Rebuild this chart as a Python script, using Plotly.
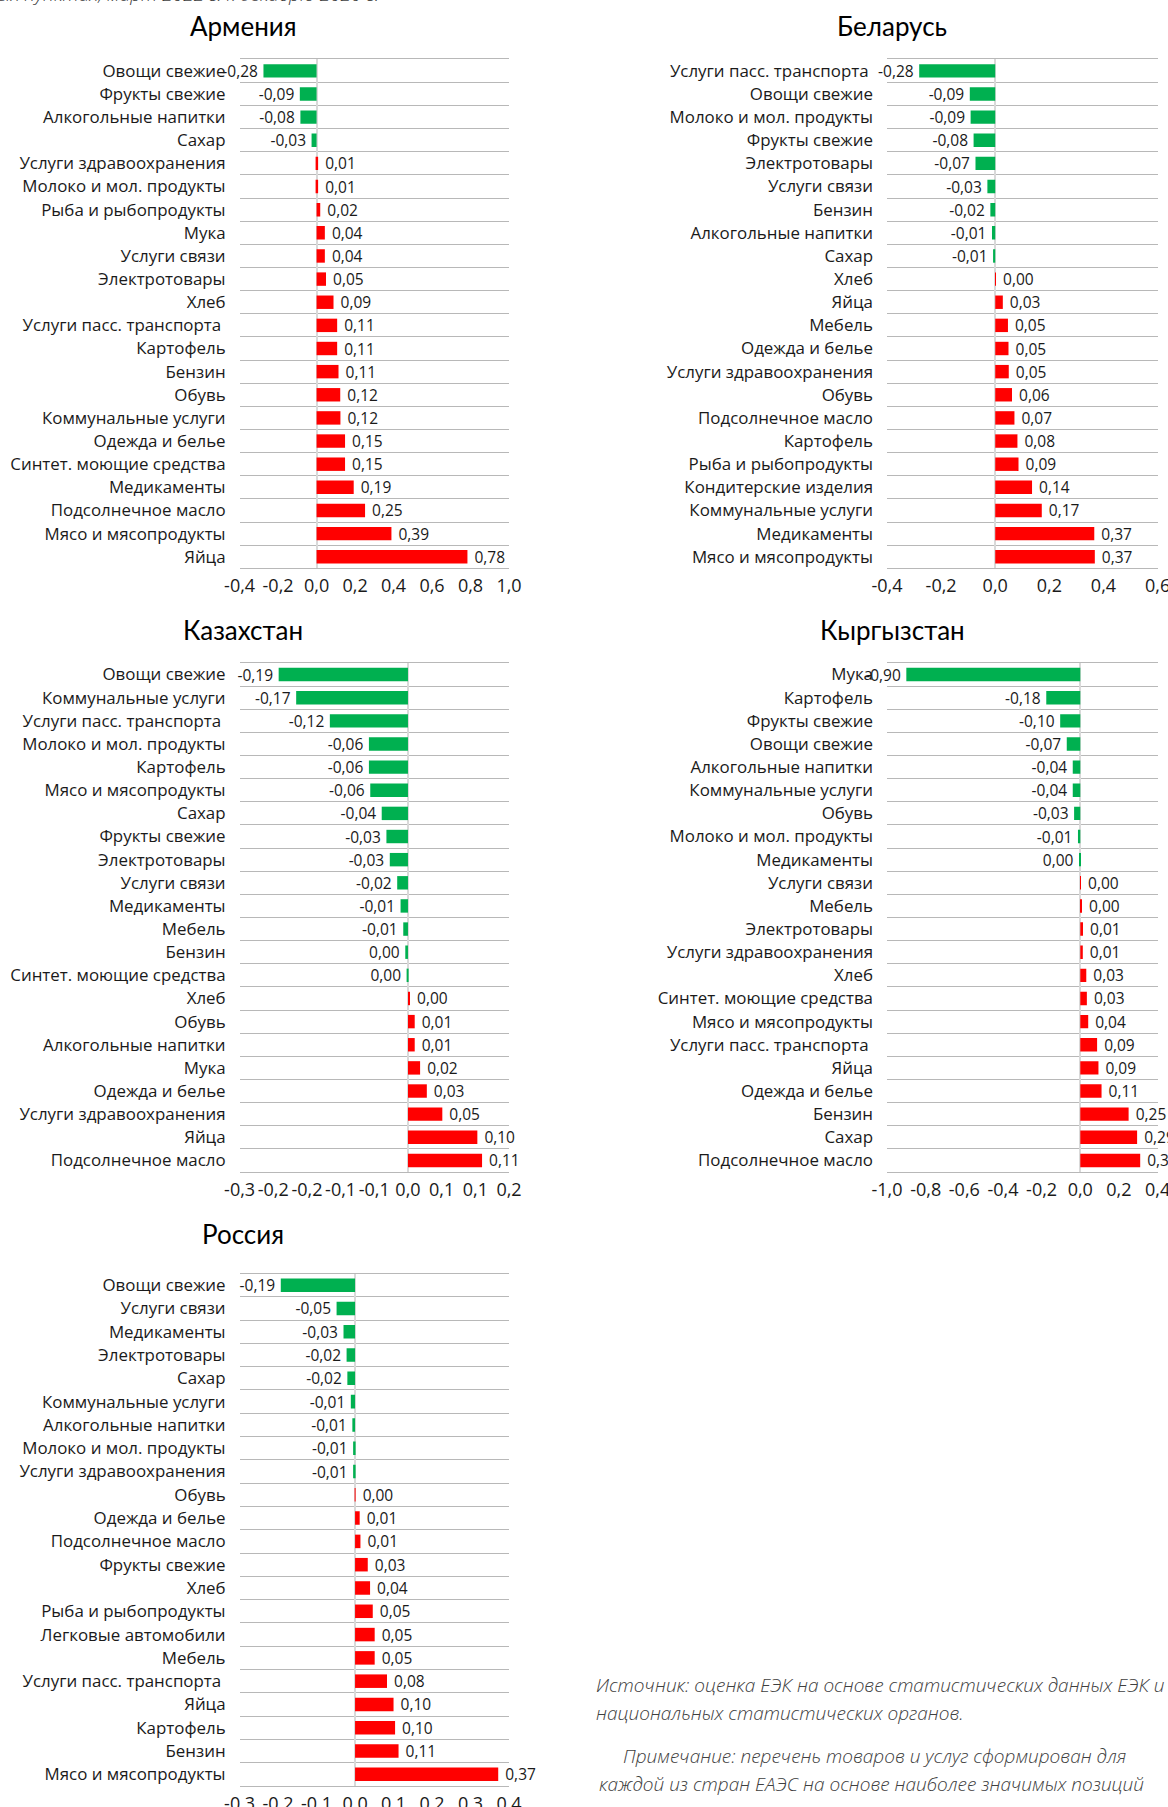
import plotly.graph_objects as go

# ---------------- data ----------------
arm_cats = ["Овощи свежие", "Фрукты свежие", "Алкогольные напитки", "Сахар",
            "Услуги здравоохранения", "Молоко и мол. продукты", "Рыба и рыбопродукты",
            "Мука", "Услуги связи", "Электротовары", "Хлеб", "Услуги пасс. транспорта\u00a0",
            "Картофель", "Бензин", "Обувь", "Коммунальные услуги", "Одежда и белье",
            "Синтет. моющие средства", "Медикаменты", "Подсолнечное масло",
            "Мясо и мясопродукты", "Яйца"]
arm_vals = [-0.276, -0.087, -0.084, -0.026, 0.008, 0.008, 0.019, 0.043, 0.043, 0.049,
            0.088, 0.107, 0.107, 0.114, 0.123, 0.124, 0.148, 0.148, 0.193, 0.252,
            0.389, 0.784]

bel_cats = ["Услуги пасс. транспорта\u00a0", "Овощи свежие", "Молоко и мол. продукты",
            "Фрукты свежие", "Электротовары", "Услуги связи", "Бензин",
            "Алкогольные напитки", "Сахар", "Хлеб", "Яйца", "Мебель", "Одежда и белье",
            "Услуги здравоохранения", "Обувь", "Подсолнечное масло", "Картофель",
            "Рыба и рыбопродукты", "Кондитерские изделия", "Коммунальные услуги",
            "Медикаменты", "Мясо и мясопродукты"]
bel_vals = [-0.281, -0.094, -0.091, -0.080, -0.073, -0.029, -0.018, -0.012, -0.008,
            0.001, 0.028, 0.047, 0.049, 0.050, 0.062, 0.071, 0.082, 0.086, 0.136,
            0.172, 0.366, 0.368]

kaz_cats = ["Овощи свежие", "Коммунальные услуги", "Услуги пасс. транспорта\u00a0",
            "Молоко и мол. продукты", "Картофель", "Мясо и мясопродукты", "Сахар",
            "Фрукты свежие", "Электротовары", "Услуги связи", "Медикаменты", "Мебель",
            "Бензин", "Синтет. моющие средства", "Хлеб", "Обувь", "Алкогольные напитки",
            "Мука", "Одежда и белье", "Услуги здравоохранения", "Яйца",
            "Подсолнечное масло"]
kaz_vals = [-0.192, -0.166, -0.116, -0.058, -0.058, -0.056, -0.039, -0.032, -0.027,
            -0.016, -0.011, -0.007, -0.004, -0.001, 0.003, 0.010, 0.010, 0.018, 0.028,
            0.051, 0.103, 0.110]

kgz_cats = ["Мука", "Картофель", "Фрукты свежие", "Овощи свежие", "Алкогольные напитки",
            "Коммунальные услуги", "Обувь", "Молоко и мол. продукты", "Медикаменты",
            "Услуги связи", "Мебель", "Электротовары", "Услуги здравоохранения", "Хлеб",
            "Синтет. моющие средства", "Мясо и мясопродукты", "Услуги пасс. транспорта\u00a0",
            "Яйца", "Одежда и белье", "Бензин", "Сахар", "Подсолнечное масло"]
kgz_vals = [-0.900, -0.176, -0.104, -0.070, -0.039, -0.039, -0.032, -0.012, -0.003,
            0.001, 0.004, 0.014, 0.013, 0.031, 0.034, 0.041, 0.087, 0.094, 0.110,
            0.250, 0.294, 0.310]

rus_cats = ["Овощи свежие", "Услуги связи", "Медикаменты", "Электротовары", "Сахар",
            "Коммунальные услуги", "Алкогольные напитки", "Молоко и мол. продукты",
            "Услуги здравоохранения", "Обувь", "Одежда и белье", "Подсолнечное масло",
            "Фрукты свежие", "Хлеб", "Рыба и рыбопродукты", "Легковые автомобили",
            "Мебель", "Услуги пасс. транспорта\u00a0", "Яйца", "Картофель", "Бензин",
            "Мясо и мясопродукты"]
rus_vals = [-0.193, -0.048, -0.030, -0.022, -0.020, -0.011, -0.007, -0.005, -0.005,
            0.001, 0.012, 0.014, 0.033, 0.039, 0.046, 0.051, 0.051, 0.083, 0.100,
            0.104, 0.113, 0.372]

arm_ticks = [-0.4, -0.2, 0.0, 0.2, 0.4, 0.6, 0.8, 1.0]
arm_ticktext = ["-0,4", "-0,2", "0,0", "0,2", "0,4", "0,6", "0,8", "1,0"]
bel_ticks = [-0.4, -0.2, 0.0, 0.2, 0.4, 0.6]
bel_ticktext = ["-0,4", "-0,2", "0,0", "0,2", "0,4", "0,6"]
kaz_ticks = [-0.25, -0.2, -0.15, -0.1, -0.05, 0.0, 0.05, 0.1, 0.15]
kaz_ticktext = ["-0,3", "-0,2", "-0,2", "-0,1", "-0,1", "0,0", "0,1", "0,1", "0,2"]
kgz_ticks = [-1.0, -0.8, -0.6, -0.4, -0.2, 0.0, 0.2, 0.4]
kgz_ticktext = ["-1,0", "-0,8", "-0,6", "-0,4", "-0,2", "0,0", "0,2", "0,4"]
rus_ticks = [-0.3, -0.2, -0.1, 0.0, 0.1, 0.2, 0.3, 0.4]
rus_ticktext = ["-0,3", "-0,2", "-0,1", "0,0", "0,1", "0,2", "0,3", "0,4"]

titles = ["Армения", "Беларусь", "Казахстан", "Кыргызстан", "Россия"]

# ---------------- layout helpers ----------------
W, H = 1168, 1807
GREEN, RED = "#00B050", "#FF0000"
GRID = "#B8B8B8"
ZERO = "#D9D9D9"
LABEL_FONT = dict(family="Open Sans", size=16.9, color="#1a1a1a")
VAL_FONT = dict(family="Open Sans", size=15.5, color="#1a1a1a")
TICK_FONT = dict(family="Open Sans", size=18, color="#1a1a1a")
TITLE_FONT = dict(family="Lato", size=26, color="#000000")

cols_px = {0: (239.6, 509.0, 243), 1: (887.0, 1157.6, 892)}
rows_px = {0: (59.3, 568.3, 26), 1: (663.0, 1172.0, 630), 2: (1273.5, 1786.0, 1234)}

panels = [
    (titles[0], arm_cats, arm_vals, arm_ticks, arm_ticktext, 0, 0),
    (titles[1], bel_cats, bel_vals, bel_ticks, bel_ticktext, 1, 0),
    (titles[2], kaz_cats, kaz_vals, kaz_ticks, kaz_ticktext, 0, 1),
    (titles[3], kgz_cats, kgz_vals, kgz_ticks, kgz_ticktext, 1, 1),
    (titles[4], rus_cats, rus_vals, rus_ticks, rus_ticktext, 0, 2),
]


def fmt(v):
    s = f"{v:.2f}".replace(".", ",")
    if s == "-0,00":
        s = "0,00"
    # small padding between bar end and label
    return s + "\u2009" if v < 0 else "\u00a0" + s


fig = go.Figure()
layout = dict(width=W, height=H, autosize=False, margin=dict(l=0, r=0, t=0, b=0, pad=0),
              paper_bgcolor="white", plot_bgcolor="white", showlegend=False,
              bargap=0.42, annotations=[])

for i, (title, cats, vals, ticks, ticktext, c, r) in enumerate(panels):
    n = "" if i == 0 else str(i + 1)
    x0, x1, cx = cols_px[c]
    top, bot, ty = rows_px[r]
    fig.add_trace(go.Bar(
        x=vals, y=cats, orientation="h",
        marker=dict(color=[GREEN if v < 0 else RED for v in vals], line=dict(width=0)),
        text=[fmt(v) for v in vals], textposition="outside", textfont=VAL_FONT,
        constraintext="none", cliponaxis=False, hoverinfo="skip",
        xaxis="x" + n, yaxis="y" + n,
    ))
    layout["xaxis" + n] = dict(
        domain=[x0 / W, x1 / W], anchor="y" + n, automargin=False,
        range=[ticks[0], ticks[-1]], tickmode="array", tickvals=ticks, ticktext=ticktext,
        showgrid=False, zeroline=True, zerolinecolor=ZERO, zerolinewidth=1.5,
        showline=True, linecolor=GRID, linewidth=1.3, mirror=True,
        ticks="", ticklabelstandoff=1, ticklabeloverflow="allow", tickfont=TICK_FONT,
        fixedrange=True,
    )
    layout["yaxis" + n] = dict(
        domain=[1 - bot / H, 1 - top / H], anchor="x" + n, automargin=False,
        type="category", categoryorder="array", categoryarray=cats,
        autorange="reversed", tickson="boundaries",
        showgrid=True, gridcolor=GRID, gridwidth=1.3,
        ticks="", ticklabelstandoff=13, ticklabeloverflow="allow", tickfont=LABEL_FONT,
        showline=False, zeroline=False, fixedrange=True,
    )
    layout["annotations"].append(dict(
        text=title, x=cx / W, y=1 - ty / H, xref="paper", yref="paper",
        xanchor="center", yanchor="middle", showarrow=False, font=TITLE_FONT,
    ))

NOTE_FONT = dict(family="Open Sans", size=19, color="#404040", style="italic", weight=300)
notes = [
    ("в процентных пунктах, март 2022 г. к декабрю 2020 г.", 381, 9, "right", "bottom"),
    ("Источник: оценка ЕЭК на основе статистических данных ЕЭК и", 594, 1685, "left", "middle"),
    ("национальных статистических органов.", 594, 1713, "left", "middle"),
    ("Примечание: перечень товаров и услуг сформирован для", 621, 1756, "left", "middle"),
    ("каждой из стран ЕАЭС на основе наиболее значимых позиций", 597, 1784, "left", "middle"),
]
for txt, x, y, xa, ya in notes:
    layout["annotations"].append(dict(
        text=txt, x=x / W, y=1 - y / H, xref="paper", yref="paper",
        xanchor=xa, yanchor=ya, showarrow=False, font=NOTE_FONT,
    ))

fig.update_layout(**layout)
fig.write_html("out.html", config={"displayModeBar": False},
               post_script="document.body.style.margin='0';")
